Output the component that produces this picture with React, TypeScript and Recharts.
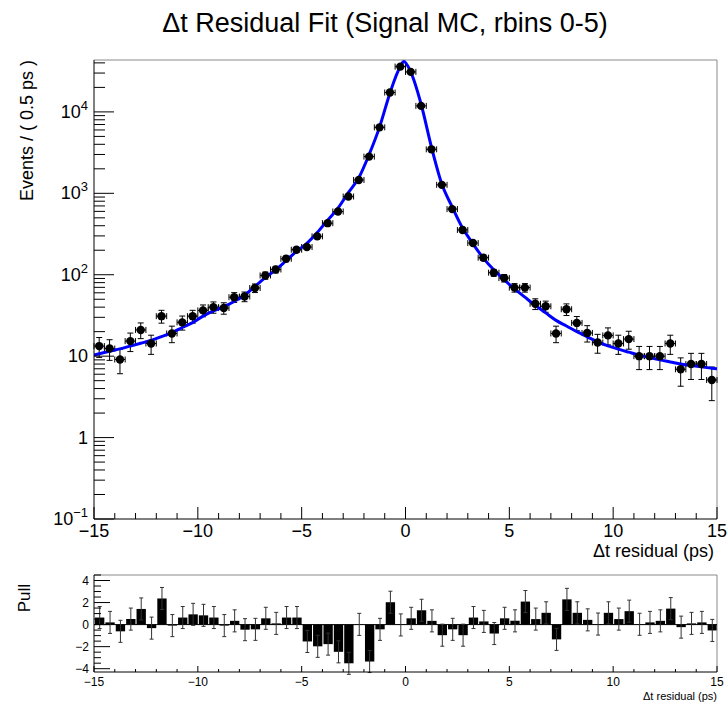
import React from "react";
import {
  Bar,
  ComposedChart,
  ErrorBar,
  Line,
  ReferenceLine,
  Scatter,
  XAxis,
  YAxis
} from "recharts";

// bin centres (0.5 ps bins)
const binCenters = [
  -14.75, -14.25, -13.75, -13.25, -12.75, -12.25, -11.75, -11.25, -10.75, -10.25,
  -9.75, -9.25, -8.75, -8.25, -7.75, -7.25, -6.75, -6.25, -5.75, -5.25,
  -4.75, -4.25, -3.75, -3.25, -2.75, -2.25, -1.75, -1.25, -0.75, -0.25,
  0.25, 0.75, 1.25, 1.75, 2.25, 2.75, 3.25, 3.75, 4.25, 4.75,
  5.25, 5.75, 6.25, 6.75, 7.25, 7.75, 8.25, 8.75, 9.25, 9.75,
  10.25, 10.75, 11.25, 11.75, 12.25, 12.75, 13.25, 13.75, 14.25, 14.75
];

const counts = [
  13.3, 12.4, 9.1, 15.3, 21, 14.3, 31, 19, 26, 31,
  36.5, 40, 39, 53, 54, 68.7, 98, 116, 157, 203,
  219, 296, 430, 598, 913, 1460, 2825, 6460, 17300, 36000,
  31000, 11850, 3470, 1270, 640, 355, 245, 162, 106, 91,
  69.5, 69.5, 44, 41, 19, 37.7, 25.6, 19.3, 14.7, 18,
  14.3, 16.2, 10, 10, 10, 14.3, 6.9, 8, 8, 5.1
];

const pulls = [
  0.64, 0.2, -0.61, 0.5, 1.42, -0.32, 2.37, -0.09, 0.64, 0.93,
  0.84, 0.64, -0.09, 0.34, -0.46, -0.43, 0.57, 0.11, 0.64, 0.64,
  -1.53, -1.97, -1.77, -2.47, -3.51, 0.02, -3.35, -0.43, 2.03, -0.03,
  0.57, 1.3, 0.34, -0.96, -0.43, -0.96, 0.64, 0.29, -0.81, 0.57,
  0.34, 2.09, 0.5, 1.07, -1.34, 2.29, 1.07, 0.43, 0.05, 1.07,
  0.5, 1.22, 0.03, 0.2, 0.34, 1.45, -0.23, 0.11, 0.2, -0.53
];

// fitted pdf
const fitX = [
  -15, -14.75, -14.25, -13.75, -13.25, -12.75, -12.25, -11.75, -11.25, -10.75,
  -10.25, -9.75, -9.25, -8.75, -8.25, -7.75, -7.25, -6.75, -6.25, -5.75,
  -5.25, -4.75, -4.25, -3.75, -3.25, -2.75, -2.25, -1.75, -1.25, -0.75,
  -0.25, -0.08, 0.25, 0.75, 1.25, 1.75, 2.25, 2.75, 3.25, 3.75,
  4.25, 4.75, 5.25, 5.75, 6.25, 6.75, 7.25, 7.75, 8.25, 8.75,
  9.25, 9.75, 10.25, 10.75, 11.25, 11.75, 12.25, 12.75, 13.25, 13.75,
  14.25, 14.75, 15
];
const fitY = [
  10.3, 10.7, 11.5, 12.3, 13.3, 14.4, 15.6, 17.4, 19.4, 22.5,
  25.8, 31, 36, 40.5, 47, 56, 72, 92, 115, 149,
  194, 243, 330, 467, 659, 1020, 1550, 3000, 6500, 17000,
  36000, 41500, 31000, 12500, 3700, 1300, 680, 374, 240, 160,
  115, 87, 67, 53, 42, 34, 27.5, 23.5, 20, 17.3,
  15, 13.4, 12.2, 11.2, 10.3, 9.6, 9.0, 8.5, 8.0, 7.7,
  7.4, 7.1, 7.0
];

const xMajorTicks = [-15, -10, -5, 0, 5, 10, 15];
const yDecades = [0.1, 1, 10, 100, 1000, 10000];
const pullMajorTicks = [-4, -2, 0, 2, 4];

const FONT = '"Liberation Sans", Arial, Helvetica, sans-serif';
const Y_TOP = 43400;
const PULL_TOP = 4.5;
const PULL_BOTTOM = -4.3;
const FRAME = "#8a8a8a";

const xTicks = Array.from({ length: 31 }, (_, i) => i - 15);
const yTicks = yDecades
  .flatMap((d) => [1, 2, 3, 4, 5, 6, 7, 8, 9].map((m) => d * m))
  .filter((v) => v <= Y_TOP);
const pullTicks = Array.from({ length: 18 }, (_, i) => -4 + i * 0.5);

const points = binCenters.map((x, i) => ({
  x,
  y: counts[i],
  ey: Math.sqrt(counts[i]),
  ex: 0.25
}));
const fitCurve = fitX.map((x, i) => ({ x, y: fitY[i] }));
const pullData = binCenters.map((x, i) => ({ x, pull: pulls[i], err: 1 }));

const minus = (v: number) => (v < 0 ? `\u2212${Math.abs(v)}` : `${v}`);

function TopXTick({ x, y, payload }: any) {
  const major = xMajorTicks.includes(payload.value);
  return (
    <g>
      <line x1={x} x2={x} y1={y} y2={y - (major ? 12 : 6)} stroke="#000" />
      {major && (
        <text x={x} y={y + 18} textAnchor="middle" fontSize={18} fontFamily={FONT} fill="#000">
          {minus(payload.value)}
        </text>
      )}
    </g>
  );
}

function LogYTick({ x, y, payload }: any) {
  const v = payload.value;
  const major = yDecades.includes(v);
  const exp = Math.round(Math.log10(v));
  let label: React.ReactNode = null;
  if (major) {
    if (exp === 0) label = "1";
    else if (exp === 1) label = "10";
    else
      label = (
        <>
          <tspan>10</tspan>
          <tspan dy={-8} fontSize={13}>
            {minus(exp)}
          </tspan>
        </>
      );
  }
  return (
    <g>
      <line x1={x} x2={x + (major ? 20 : 11)} y1={y} y2={y} stroke="#000" />
      {major && (
        <text x={x - 6} y={y + 6} textAnchor="end" fontSize={18} fontFamily={FONT} fill="#000">
          {label}
        </text>
      )}
    </g>
  );
}

function PullXTick({ x, y, payload }: any) {
  const major = xMajorTicks.includes(payload.value);
  return (
    <g>
      <line x1={x} x2={x} y1={y} y2={y - (major ? 6 : 3)} stroke="#000" />
      {major && (
        <text x={x} y={y + 14} textAnchor="middle" fontSize={12} fontFamily={FONT} fill="#000">
          {minus(payload.value)}
        </text>
      )}
    </g>
  );
}

function PullYTick({ x, y, payload }: any) {
  const major = pullMajorTicks.includes(payload.value);
  return (
    <g>
      <line x1={x} x2={x + (major ? 16 : 7)} y1={y} y2={y} stroke="#000" />
      {major && (
        <text x={x - 5} y={y + 4} textAnchor="end" fontSize={12} fontFamily={FONT} fill="#000">
          {minus(payload.value)}
        </text>
      )}
    </g>
  );
}

const Dot = (p: any) => <circle cx={p.cx} cy={p.cy} r={4.2} fill="#000" />;

export default function App() {
  return (
    <div
      style={{
        position: "absolute",
        left: 0,
        top: 0,
        width: 728,
        height: 705,
        background: "#fff",
        fontFamily: FONT
      }}
    >
      <div
        style={{
          position: "absolute",
          top: 10,
          left: 385,
          transform: "translateX(-50%)",
          whiteSpace: "nowrap",
          fontSize: 27,
          lineHeight: "27px",
          color: "#000"
        }}
      >
        Δt Residual Fit (Signal MC, rbins 0-5)
      </div>

      <div style={{ position: "absolute", top: 0, left: 0 }}>
        <ComposedChart width={728} height={566} margin={{ top: 60, right: 11, bottom: 6, left: 0 }}>
          <XAxis
            type="number"
            dataKey="x"
            domain={[-15, 15]}
            allowDataOverflow
            ticks={xTicks}
            interval={0}
            tickSize={0}
            tickMargin={0}
            tickLine={false}
            tick={<TopXTick />}
            axisLine={{ stroke: "#000" }}
            height={41}
            label={() => (
              <text x={714} y={557} textAnchor="end" fontSize={18} fontFamily={FONT} fill="#000">
                Δt residual (ps)
              </text>
            )}
          />
          <YAxis
            type="number"
            scale="log"
            domain={[0.1, Y_TOP]}
            allowDataOverflow
            ticks={yTicks}
            interval={0}
            tickSize={0}
            tickMargin={0}
            tickLine={false}
            tick={<LogYTick />}
            axisLine={{ stroke: "#000" }}
            width={94}
            label={() => (
              <text
                x={33}
                y={60}
                transform="rotate(-90 33 60)"
                textAnchor="end"
                fontSize={18}
                fontFamily={FONT}
                fill="#000"
              >
                Events / ( 0.5 ps )
              </text>
            )}
          />
          <ReferenceLine y={Y_TOP} stroke={FRAME} ifOverflow="visible" />
          <ReferenceLine x={15} stroke={FRAME} ifOverflow="visible" />
          <Scatter data={points} dataKey="y" shape={Dot} isAnimationActive={false}>
            <ErrorBar dataKey="ey" direction="y" width={3} stroke="#000" strokeWidth={1} />
            <ErrorBar dataKey="ex" direction="x" width={3} stroke="#000" strokeWidth={1} />
          </Scatter>
          <Line
            data={fitCurve}
            dataKey="y"
            type="monotone"
            stroke="#0000ff"
            strokeWidth={3}
            dot={false}
            activeDot={false}
            isAnimationActive={false}
          />
        </ComposedChart>
      </div>

      <div style={{ position: "absolute", top: 566, left: 0 }}>
        <ComposedChart
          width={728}
          height={139}
          data={pullData}
          margin={{ top: 9, right: 11, bottom: 0, left: 0 }}
        >
          <XAxis
            type="number"
            dataKey="x"
            domain={[-15, 15]}
            allowDataOverflow
            ticks={xTicks}
            interval={0}
            tickSize={0}
            tickMargin={0}
            tickLine={false}
            tick={<PullXTick />}
            axisLine={{ stroke: "#000" }}
            height={33}
            label={() => (
              <text x={717} y={134} textAnchor="end" fontSize={11} fontFamily={FONT} fill="#000">
                Δt residual (ps)
              </text>
            )}
          />
          <YAxis
            type="number"
            domain={[PULL_BOTTOM, PULL_TOP]}
            allowDataOverflow
            ticks={pullTicks}
            interval={0}
            tickSize={0}
            tickMargin={0}
            tickLine={false}
            tick={<PullYTick />}
            axisLine={{ stroke: "#000" }}
            width={94}
            label={() => (
              <text
                x={30}
                y={18}
                transform="rotate(-90 30 18)"
                textAnchor="end"
                fontSize={17}
                fontFamily={FONT}
                fill="#000"
              >
                Pull
              </text>
            )}
          />
          <ReferenceLine y={PULL_TOP} stroke={FRAME} ifOverflow="visible" />
          <ReferenceLine x={15} stroke={FRAME} ifOverflow="visible" />
          <ReferenceLine y={0} stroke="#000" ifOverflow="visible" />
          <Bar dataKey="pull" fill="#000" barSize={11} isAnimationActive={false}>
            <ErrorBar dataKey="err" direction="y" width={2} stroke="#333" strokeWidth={1} />
          </Bar>
        </ComposedChart>
      </div>
    </div>
  );
}
